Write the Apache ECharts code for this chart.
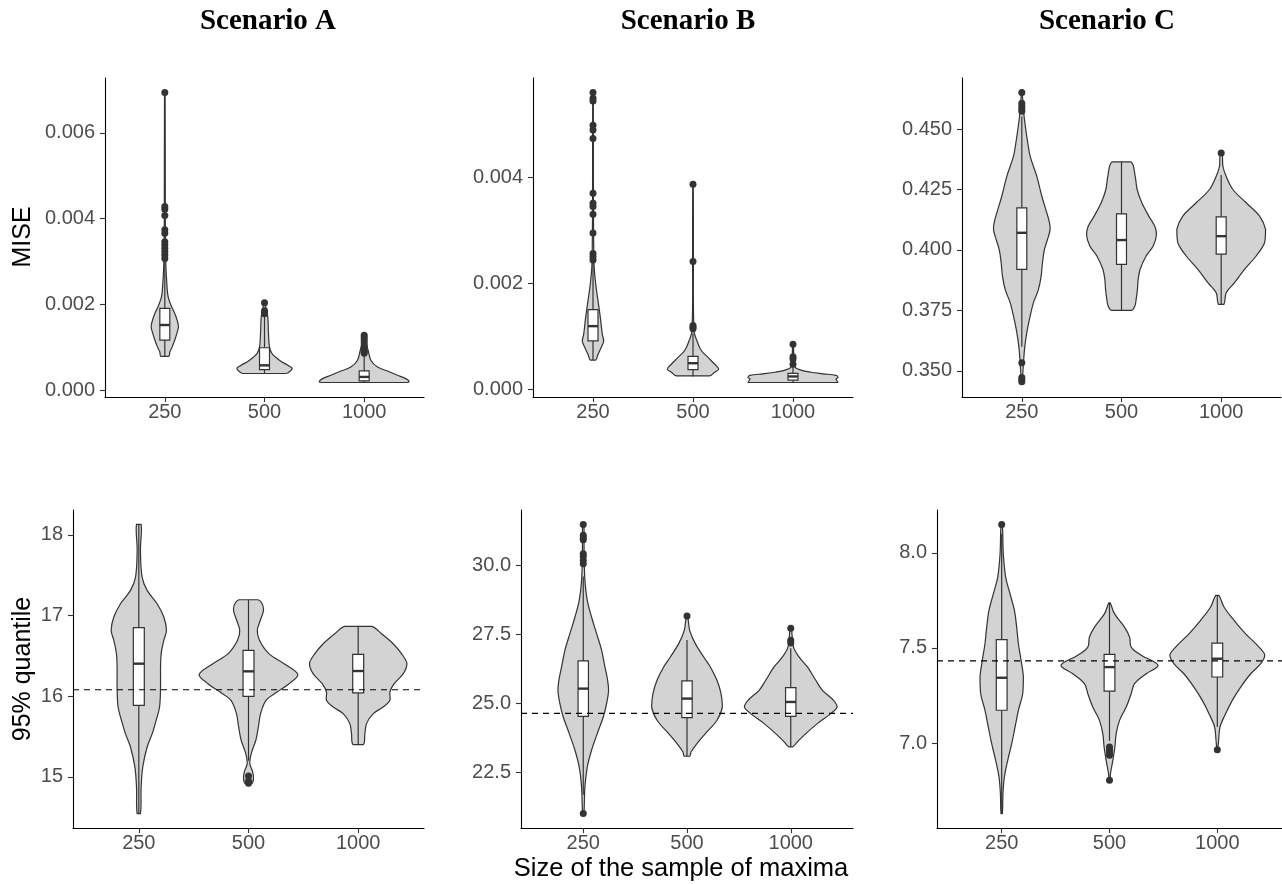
<!DOCTYPE html>
<html><head><meta charset="utf-8">
<script src="https://cdn.jsdelivr.net/npm/echarts@6/dist/echarts.min.js"></script>
<style>html,body{margin:0;padding:0;background:#fff}#chart{width:1282px;height:884px}</style>
</head><body><div id="chart"></div>
<script>
// ---------- DATA ----------
const categories = ['250', '500', '1000'];
const scenarioTitles = ['Scenario A', 'Scenario B', 'Scenario C'];
const rowTitles = ['MISE', '95% quantile'];
const xAxisTitle = 'Size of the sample of maxima';

// y tick values
const ticksMiseA = [0, 0.002, 0.004, 0.006];
const ticksMiseB = [0, 0.002, 0.004];
const ticksMiseC = [0.35, 0.375, 0.4, 0.425, 0.45];
const ticksQA = [15, 16, 17, 18];
const ticksQB = [22.5, 25, 27.5, 30];
const ticksQC = [7.0, 7.5, 8.0];

// violin outlines: [value, half-width in category units]
const violinMiseA250 = [[0.00079,0.040],[0.00089,0.050],[0.00101,0.074],[0.00117,0.100],[0.00132,0.120],[0.00148,0.137],[0.00163,0.124],[0.00179,0.100],[0.00195,0.067],[0.00218,0.033],[0.00249,0.020],[0.00296,0.010],[0.00400,0.005],[0.00694,0.003]];
const violinMiseA500 = [[0.00039,0.217],[0.00043,0.251],[0.00051,0.278],[0.00058,0.234],[0.00070,0.150],[0.00086,0.074],[0.00101,0.050],[0.00132,0.040],[0.00171,0.033],[0.00185,0.020],[0.00204,0.003]];
const violinMiseA1000 = [[0.00018,0.435],[0.00021,0.450],[0.00027,0.418],[0.00035,0.334],[0.00043,0.251],[0.00054,0.134],[0.00070,0.067],[0.00093,0.040],[0.00110,0.020],[0.00128,0.003]];

const violinMiseB250 = [[0.00055,0.027],[0.00066,0.050],[0.00079,0.083],[0.00091,0.107],[0.00104,0.093],[0.00136,0.073],[0.00167,0.050],[0.00199,0.027],[0.00237,0.010],[0.00400,0.004],[0.00560,0.003]];
const violinMiseB500 = [[0.00025,0.167],[0.00032,0.217],[0.00038,0.257],[0.00047,0.217],[0.00060,0.150],[0.00073,0.083],[0.00091,0.040],[0.00110,0.010],[0.00250,0.004],[0.00386,0.003]];
const violinMiseB1000 = [[0.000126,0.450],[0.00016,0.440],[0.00019,0.430],[0.00022,0.450],[0.00026,0.430],[0.00029,0.300],[0.00032,0.180],[0.00036,0.080],[0.00042,0.020],[0.00085,0.003]];

const violinMiseC250 = [[0.3452,0.003],[0.3589,0.027],[0.3658,0.050],[0.3727,0.084],[0.3782,0.117],[0.3837,0.167],[0.3892,0.194],[0.3947,0.207],[0.4002,0.227],[0.4057,0.268],[0.4085,0.284],[0.4112,0.278],[0.4167,0.241],[0.4222,0.201],[0.4305,0.150],[0.4387,0.084],[0.4442,0.060],[0.4552,0.023],[0.4651,0.003]];
const violinMiseC500 = [[0.375,0.100],[0.3768,0.134],[0.3796,0.147],[0.3837,0.160],[0.3878,0.167],[0.392,0.187],[0.3975,0.247],[0.4016,0.318],[0.4064,0.351],[0.4098,0.334],[0.414,0.274],[0.4195,0.204],[0.425,0.157],[0.4305,0.137],[0.4364,0.095]];
const violinMiseC1000 = [[0.3775,0.027],[0.3823,0.050],[0.3865,0.134],[0.392,0.234],[0.3975,0.351],[0.403,0.435],[0.4085,0.445],[0.414,0.385],[0.4195,0.251],[0.425,0.117],[0.4305,0.050],[0.4346,0.017],[0.4401,0.010]];

const violinQA250 = [[14.546,0.015],[14.876,0.021],[15.124,0.036],[15.371,0.076],[15.536,0.122],[15.701,0.158],[15.866,0.189],[16.114,0.198],[16.362,0.198],[16.527,0.204],[16.692,0.228],[16.816,0.252],[16.981,0.228],[17.146,0.167],[17.311,0.076],[17.476,0.030],[17.806,0.015],[18.128,0.021]];
const violinQA500 = [[14.917,0.030],[14.979,0.045],[15.062,0.038],[15.165,0.012],[15.289,0.025],[15.454,0.067],[15.619,0.090],[15.784,0.110],[15.949,0.160],[16.052,0.260],[16.155,0.370],[16.267,0.450],[16.403,0.325],[16.527,0.185],[16.692,0.100],[16.816,0.080],[16.950,0.110],[17.084,0.137],[17.195,0.087]];
const violinQA1000 = [[15.400,0.046],[15.536,0.061],[15.660,0.076],[15.784,0.137],[15.866,0.228],[15.949,0.289],[16.052,0.289],[16.155,0.328],[16.279,0.411],[16.403,0.444],[16.527,0.395],[16.650,0.319],[16.774,0.213],[16.865,0.122]];

const violinQB250 = [[21.017,0.006],[21.981,0.016],[22.705,0.039],[23.308,0.080],[23.911,0.135],[24.513,0.193],[24.996,0.225],[25.478,0.244],[25.840,0.235],[26.322,0.209],[26.925,0.177],[27.528,0.129],[28.131,0.080],[28.734,0.039],[29.457,0.016],[30.500,0.008],[31.480,0.006]];
const violinQB500 = [[23.090,0.026],[23.247,0.039],[23.549,0.096],[23.911,0.177],[24.393,0.289],[24.875,0.341],[25.357,0.328],[25.840,0.289],[26.322,0.225],[26.684,0.161],[27.166,0.080],[27.649,0.026],[28.167,0.006]];
const violinQB1000 = [[23.428,0.016],[23.609,0.064],[23.911,0.145],[24.272,0.257],[24.634,0.386],[24.875,0.447],[25.116,0.412],[25.478,0.305],[25.840,0.241],[26.322,0.161],[26.684,0.080],[27.046,0.026],[27.721,0.006]];

const violinQC250 = [[6.629,0.006],[6.734,0.012],[6.821,0.025],[6.909,0.056],[6.996,0.093],[7.084,0.124],[7.172,0.155],[7.259,0.195],[7.347,0.201],[7.434,0.180],[7.522,0.155],[7.609,0.139],[7.697,0.118],[7.785,0.077],[7.872,0.037],[7.995,0.015],[8.149,0.006]];
const violinQC500 = [[6.804,0.003],[6.839,0.009],[6.909,0.031],[6.979,0.050],[7.049,0.062],[7.119,0.093],[7.189,0.155],[7.259,0.201],[7.312,0.232],[7.364,0.341],[7.408,0.450],[7.461,0.294],[7.504,0.201],[7.557,0.186],[7.609,0.139],[7.680,0.046],[7.737,0.006]];
const violinQC1000 = [[6.965,0.003],[7.014,0.012],[7.084,0.025],[7.154,0.077],[7.224,0.139],[7.294,0.217],[7.364,0.310],[7.417,0.403],[7.461,0.440],[7.504,0.387],[7.574,0.263],[7.645,0.155],[7.715,0.062],[7.776,0.015]];

// box stats: [lower whisker, Q1, median, Q3, upper whisker]
const boxMiseA = [[0.00079,0.00117,0.00152,0.00191,0.00300],[0.00039,0.00048,0.00058,0.00099,0.00172],[0.00018,0.00022,0.00031,0.00045,0.00080]];
const boxMiseB = [[0.00055,0.00091,0.00119,0.00150,0.00240],[0.00024,0.00037,0.00049,0.00062,0.00105],[0.000126,0.00017,0.00024,0.00030,0.00045]];
const boxMiseC = [[0.3600,0.3920,0.4071,0.4174,0.4552],[0.3750,0.3940,0.4041,0.4149,0.4364],[0.3775,0.3983,0.4057,0.4137,0.4310]];
const boxQA = [[14.546,15.887,16.403,16.849,18.128],[15.20,15.998,16.308,16.568,17.195],[15.40,16.04,16.312,16.518,16.865]];
const boxQB = [[21.70,24.537,25.538,26.539,29.60],[23.09,24.489,25.177,25.816,27.30],[23.428,24.537,25.056,25.575,27.00]];
const boxQC = [[6.629,7.172,7.343,7.543,8.10],[7.011,7.273,7.399,7.466,7.737],[7.084,7.347,7.443,7.525,7.776]];

// outliers
const outMiseA250 = [0.00307,0.00315,0.00323,0.00331,0.00339,0.00346,0.00366,0.00374,0.00407,0.00422,0.00428,0.00694];
const outMiseA500 = [0.00178,0.00181,0.00185,0.00204];
const outMiseA1000 = [0.00086,0.00090,0.00093,0.00099,0.00105,0.00111,0.00117,0.00123,0.00128];
const outMiseB250 = [0.00244,0.00250,0.00256,0.00295,0.00330,0.00345,0.00351,0.00370,0.00473,0.00489,0.00498,0.00544,0.00549,0.00560];
const outMiseB500 = [0.00114,0.00117,0.00120,0.00241,0.00387];
const outMiseB1000 = [0.00047,0.00057,0.00061,0.00085];
const outMiseC250 = [0.3455,0.3463,0.3473,0.3534,0.4573,0.4583,0.4594,0.4607,0.4651];
const outMiseC500 = [];
const outMiseC1000 = [0.4401];
const outQA250 = [];
const outQA500 = [14.92,14.95,15.01];
const outQA1000 = [];
const outQB250 = [21.02,30.06,30.18,30.33,30.42,30.93,31.00,31.09,31.48];
const outQB500 = [28.17];
const outQB1000 = [27.19,27.29,27.72];
const outQC250 = [8.149];
const outQC500 = [6.804,6.935,6.950,6.965,6.979];
const outQC1000 = [6.965];

// dashed reference (true 95% quantile) per scenario
const refQ = [16.08, 24.64, 7.432];

// ---------- LAYOUT / STYLE ----------
const SANS = "'Liberation Sans', Arial, Helvetica, sans-serif";
const SERIF = "'Liberation Serif', 'Times New Roman', serif";
const grids = [
  {left:105, top:78, width:319, height:319},
  {left:533, top:78, width:320, height:319},
  {left:962, top:78, width:319, height:319},
  {left:73,  top:510, width:351, height:318},
  {left:521, top:510, width:332, height:318},
  {left:937, top:510, width:345, height:318}
];
const panels = [
  {violins:[violinMiseA250,violinMiseA500,violinMiseA1000], boxes:boxMiseA, outliers:[outMiseA250,outMiseA500,outMiseA1000], ticks:ticksMiseA, dec:3, ref:null},
  {violins:[violinMiseB250,violinMiseB500,violinMiseB1000], boxes:boxMiseB, outliers:[outMiseB250,outMiseB500,outMiseB1000], ticks:ticksMiseB, dec:3, ref:null},
  {violins:[violinMiseC250,violinMiseC500,violinMiseC1000], boxes:boxMiseC, outliers:[outMiseC250,outMiseC500,outMiseC1000], ticks:ticksMiseC, dec:3, ref:null},
  {violins:[violinQA250,violinQA500,violinQA1000], boxes:boxQA, outliers:[outQA250,outQA500,outQA1000], ticks:ticksQA, dec:0, ref:refQ[0]},
  {violins:[violinQB250,violinQB500,violinQB1000], boxes:boxQB, outliers:[outQB250,outQB500,outQB1000], ticks:ticksQB, dec:1, ref:refQ[1]},
  {violins:[violinQC250,violinQC500,violinQC1000], boxes:boxQC, outliers:[outQC250,outQC500,outQC1000], ticks:ticksQC, dec:1, ref:refQ[2]}
];
const BOX_HALF = 0.05;
const X_MIN = 0.4, X_MAX = 3.6;
const catPos = categories.map((c, i) => i + 1);

function dataRange(p) {
  let lo = Infinity, hi = -Infinity;
  const upd = y => { lo = Math.min(lo, y); hi = Math.max(hi, y); };
  p.violins.forEach(v => v.forEach(pt => upd(pt[0])));
  p.outliers.forEach(o => o.forEach(upd));
  p.boxes.forEach(b => b.forEach(upd));
  const pad = (hi - lo) * 0.05;
  return [lo - pad, hi + pad];
}

const xAxes = [], yAxes = [], series = [];
panels.forEach((p, i) => {
  const [ymin, ymax] = dataRange(p);
  xAxes.push({
    gridIndex: i, type: 'value', min: X_MIN, max: X_MAX,
    axisLine: {show: true, onZero: false, lineStyle: {color: '#000', width: 1.1}},
    axisTick: {show: true, length: 5, customValues: catPos, lineStyle: {color: '#333', width: 1.1}},
    axisLabel: {customValues: catPos, formatter: v => categories[Math.round(v) - 1], color: '#4d4d4d', fontSize: 20, fontFamily: SANS, margin: 5},
    splitLine: {show: false}
  });
  yAxes.push({
    gridIndex: i, type: 'value', min: ymin, max: ymax,
    axisLine: {show: true, onZero: false, lineStyle: {color: '#000', width: 1.1}},
    axisTick: {show: true, length: 5, customValues: p.ticks, lineStyle: {color: '#333', width: 1.1}},
    axisLabel: {customValues: p.ticks, formatter: v => Number(v).toFixed(p.dec), color: '#4d4d4d', fontSize: 20, fontFamily: SANS, margin: 10},
    splitLine: {show: false}
  });
  // violins
  series.push({
    type: 'custom', xAxisIndex: i, yAxisIndex: i, z: 2, silent: true,
    data: p.violins.map((v, k) => [catPos[k], v[0][0], v[v.length - 1][0]]),
    encode: {x: 0, y: [1, 2]},
    renderItem: (params, api) => {
      const v = p.violins[params.dataIndex];
      const c = api.value(0);
      const right = v.map(pt => api.coord([c + pt[1], pt[0]]));
      const left = v.slice().reverse().map(pt => api.coord([c - pt[1], pt[0]]));
      const pts = right.concat(left);
      return {type: 'polygon', shape: {points: pts, smooth: 0.35, smoothConstraint: [pts[0], pts[0]]},
              style: {fill: '#d3d3d3', stroke: '#333333', lineWidth: 1.2}};
    }
  });
  // boxplots
  series.push({
    type: 'custom', xAxisIndex: i, yAxisIndex: i, z: 3, silent: true,
    data: p.boxes.map((b, k) => [catPos[k]].concat(b)),
    encode: {x: 0, y: [1, 2, 3, 4, 5]},
    renderItem: (params, api) => {
      const c = api.value(0);
      const lo = api.coord([c, api.value(1)]), q1 = api.coord([c, api.value(2)]);
      const md = api.coord([c, api.value(3)]), q3 = api.coord([c, api.value(4)]);
      const hi = api.coord([c, api.value(5)]);
      const xl = api.coord([c - BOX_HALF, api.value(2)])[0];
      const xr = api.coord([c + BOX_HALF, api.value(2)])[0];
      const st = {stroke: '#333333', lineWidth: 1.2};
      return {type: 'group', children: [
        {type: 'line', shape: {x1: lo[0], y1: lo[1], x2: q1[0], y2: q1[1]}, style: st},
        {type: 'line', shape: {x1: q3[0], y1: q3[1], x2: hi[0], y2: hi[1]}, style: st},
        {type: 'rect', shape: {x: xl, y: q3[1], width: xr - xl, height: q1[1] - q3[1]}, style: {fill: '#fff', stroke: '#333333', lineWidth: 1.2}},
        {type: 'line', shape: {x1: xl, y1: md[1], x2: xr, y2: md[1]}, style: {stroke: '#333333', lineWidth: 2.4}}
      ]};
    }
  });
  // outliers
  const pts = [];
  p.outliers.forEach((arr, k) => arr.forEach(y => pts.push([catPos[k], y])));
  series.push({
    type: 'scatter', xAxisIndex: i, yAxisIndex: i, z: 4, silent: true,
    data: pts, symbol: 'circle', symbolSize: 7, itemStyle: {color: '#333333', opacity: 1}
  });
  if (p.ref !== null) {
    series.push({
      type: 'line', xAxisIndex: i, yAxisIndex: i, z: 5, silent: true,
      data: [[X_MIN, p.ref], [X_MAX, p.ref]], symbol: 'none', showSymbol: false,
      lineStyle: {color: '#000', width: 1.2, type: [6, 5]}
    });
  }
});

const titleX = [268, 688, 1107];
const graphic = [];
scenarioTitles.forEach((t, k) => graphic.push({
  type: 'text', x: titleX[k], y: 22, silent: true,
  style: {text: t, font: "bold 29px " + SERIF, fill: '#000', align: 'center', verticalAlign: 'middle'}
}));
graphic.push({type: 'text', x: 23, y: 237, rotation: Math.PI / 2, silent: true,
  style: {text: rowTitles[0], font: "25px " + SANS, fill: '#000', align: 'center', verticalAlign: 'middle'}});
graphic.push({type: 'text', x: 23, y: 669, rotation: Math.PI / 2, silent: true,
  style: {text: rowTitles[1], font: "25px " + SANS, fill: '#000', align: 'center', verticalAlign: 'middle'}});
graphic.push({type: 'text', x: 681, y: 869, silent: true,
  style: {text: xAxisTitle, font: "25.5px " + SANS, fill: '#000', align: 'center', verticalAlign: 'middle'}});

const chart = echarts.init(document.getElementById('chart'), null, {renderer: 'canvas', width: 1282, height: 884});
chart.setOption({
  animation: false,
  backgroundColor: '#fff',
  grid: grids.map(g => Object.assign({containLabel: false}, g)),
  xAxis: xAxes,
  yAxis: yAxes,
  series: series,
  graphic: graphic
});
</script></body></html>
